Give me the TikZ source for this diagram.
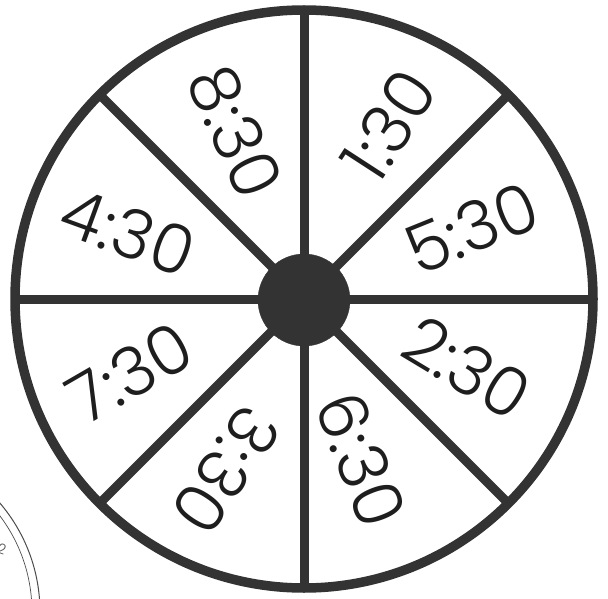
\documentclass[tikz,border=0pt]{standalone}
\usepackage{fontspec}
\newfontfamily\hand{Poppins}[UprightFont=* Light]
\definecolor{ink}{HTML}{333333}
\definecolor{pen}{HTML}{1E1E1E}
\begin{document}
\begin{tikzpicture}[x=1pt,y=-1pt,
  rim/.style={draw=ink,line width=9.5pt},
  spoke/.style={draw=ink,line width=9pt},
  hubdisk/.style={circle,fill=ink,draw=ink,minimum size=92pt,inner sep=0pt},
  lbl/.style={font=\hand\fontsize{68}{68}\selectfont,text=pen,inner sep=0pt},
  thinarc/.style={draw=black!70,line width=1pt}]
\useasboundingbox (0,0) rectangle (608,599);
\clip (0,0) rectangle (608,599);
% partial clock in the corner
\coordinate (k) at (-128,612);
\draw[thinarc] (k) circle[radius=168];
\draw[thinarc,line width=0.7pt] (k) circle[radius=160];
\node[font=\hand\fontsize{14}{14}\selectfont,text=black!70,rotate=-20] (k2) at (2,549) {2};
% spinner
\coordinate (c) at (304,299);
\draw[rim] (c) circle[radius=289];
\foreach \a in {0,45,...,315}{
  \coordinate (r\a) at ({304+289*cos(\a)},{299-289*sin(\a)});
  \draw[spoke] (c) -- (r\a);
}
\node[hubdisk] (hub) at (304,300) {};
% labels
\node[lbl,rotate=-66] (t830) at (235,132) {8:30};
\node[lbl,rotate=57]  (t130) at (389,125) {1:30};
\node[lbl,rotate=-20] (t430) at (128,232) {4:30};
\node[lbl,rotate=22]  (t530) at (472,228) {5:30};
\node[lbl,rotate=30]  (t730) at (130,373) {7:30};
\node[lbl,rotate=-31] (t230) at (467,368) {2:30};
\node[lbl,rotate=-124] (t330) at (226,470) {3:30};
\node[lbl,rotate=-69] (t630) at (361,460) {6:30};
\end{tikzpicture}
\end{document}
